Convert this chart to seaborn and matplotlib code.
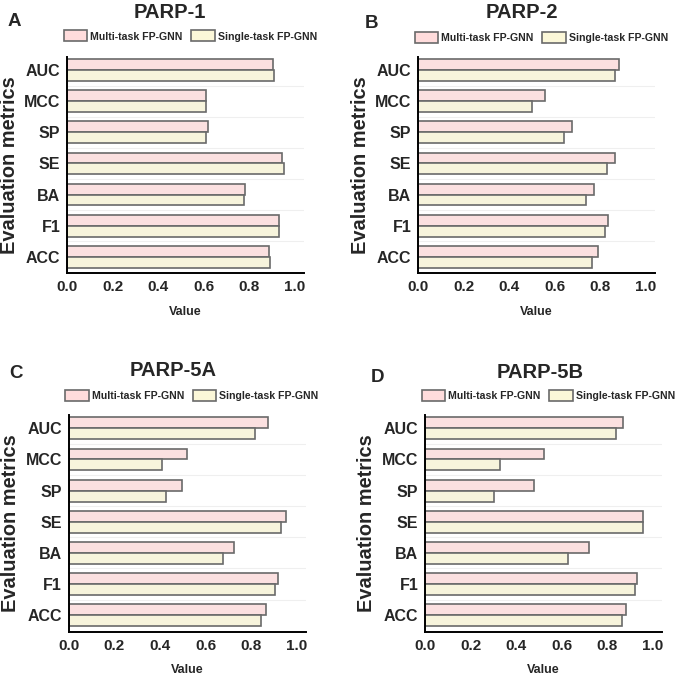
import matplotlib
matplotlib.use("Agg")
import matplotlib.pyplot as plt
from matplotlib.patches import Patch
from matplotlib.ticker import MultipleLocator, FixedLocator
import seaborn as sns
import pandas as pd

sns.set_style("white")
plt.rcParams['font.family'] = ['Liberation Sans', 'DejaVu Sans']

metrics = ["AUC", "MCC", "SP", "SE", "BA", "F1", "ACC"]
models = ["Multi-task FP-GNN", "Single-task FP-GNN"]

parp1_multi = [0.906, 0.611, 0.620, 0.945, 0.781, 0.931, 0.888]
parp1_single = [0.909, 0.612, 0.611, 0.951, 0.778, 0.932, 0.891]
parp2_multi = [0.883, 0.555, 0.674, 0.866, 0.771, 0.836, 0.790]
parp2_single = [0.864, 0.498, 0.639, 0.830, 0.736, 0.819, 0.763]
parp5a_multi = [0.874, 0.521, 0.495, 0.953, 0.724, 0.919, 0.866]
parp5a_single = [0.818, 0.407, 0.426, 0.931, 0.678, 0.906, 0.843]
parp5b_multi = [0.871, 0.521, 0.479, 0.956, 0.718, 0.930, 0.881]
parp5b_single = [0.838, 0.329, 0.304, 0.956, 0.628, 0.922, 0.866]

titles = ["PARP-1", "PARP-2", "PARP-5A", "PARP-5B"]
letters = ["A", "B", "C", "D"]

pink = "#FFDCDC"
yellow = "#FBF7D8"
edge = "#6a6a6a"

W = H = 677
fig = plt.figure(figsize=(W / 100, H / 100), dpi=100)

# axes boxes in px: left, top, width, height
boxes = [(67.3, 57, 236.5, 216.3), (418.3, 57, 236.5, 216.3),
         (69, 415.3, 236.5, 216.3), (425.3, 415.3, 236.5, 216.3)]
title_pos = [(170, 12), (522, 13), (173, 370), (540, 372)]
letter_pos = [(14, 22), (372, 23), (16, 373), (377, 378)]
legend_y = [36, 37.5, 395.5, 395.5]
ylab_x = [10, 361, 11, 366]
xlab_y = [312, 312, 670, 670]

data_sets = [(parp1_multi, parp1_single), (parp2_multi, parp2_single),
             (parp5a_multi, parp5a_single), (parp5b_multi, parp5b_single)]

for i, ((m, s), (l, t, w, h)) in enumerate(zip(data_sets, boxes)):
    ax = fig.add_axes([l / W, 1 - (t + h) / H, w / W, h / H])
    df = pd.DataFrame({
        "Metric": metrics * 2,
        "Value": list(m) + list(s),
        "Model": [models[0]] * len(metrics) + [models[1]] * len(metrics),
    })
    for k in range(len(metrics) - 1):
        ax.axhline(k + 0.5, color="#efefef", lw=0.8, zorder=0)
    sns.barplot(data=df, x="Value", y="Metric", hue="Model", order=metrics,
                hue_order=models, orient="h", palette=[pink, yellow],
                width=0.7, edgecolor=edge, linewidth=1.2, legend=False,
                ax=ax, zorder=2)
    ax.set_xlim(0, 1.04)
    ax.set_ylim(6.53, -0.42)
    ax.xaxis.set_minor_locator(MultipleLocator(0.05))
    ax.yaxis.set_minor_locator(FixedLocator([k + 0.5 for k in range(-1, len(metrics))]))
    ax.set_xticks([0.0, 0.2, 0.4, 0.6, 0.8, 1.0])
    ax.set_xticklabels(["0.0", "0.2", "0.4", "0.6", "0.8", "1.0"],
                       fontsize=11, fontweight="bold")
    ax.set_yticks(range(len(metrics)))
    ax.set_yticklabels(metrics, fontsize=11.5, fontweight="bold")
    ax.tick_params(axis="both", which="major", direction="out", length=3.5,
                   width=1.2, color="black", pad=1.5)
    ax.tick_params(axis="both", which="minor", direction="out", length=2,
                   width=1.0, color="black")
    for sp in ["top", "right"]:
        ax.spines[sp].set_visible(False)
    for sp in ["left", "bottom"]:
        ax.spines[sp].set_linewidth(1.4)
        ax.spines[sp].set_color("black")
    ax.set_xlabel("Value", fontsize=9, fontweight="bold")
    ax.xaxis.set_label_coords(0.5, -(xlab_y[i] - (t + h)) / h)
    ax.xaxis.label.set_va("center")
    ax.set_ylabel("Evaluation metrics", fontsize=14.4, fontweight="bold")
    ax.yaxis.set_label_coords(-(l - ylab_x[i]) / w, 0.5)
    ax.yaxis.label.set_va("center")

    handles = [Patch(facecolor=pink, edgecolor=edge, linewidth=1.2),
               Patch(facecolor=yellow, edgecolor=edge, linewidth=1.2)]
    ax.legend(handles, models, loc="center",
              bbox_to_anchor=(0.52, 1 + (t - legend_y[i]) / h),
              ncol=2, frameon=False, prop={"weight": "bold", "size": 7.6},
              handlelength=2.2, handleheight=1.23, columnspacing=0.85,
              handletextpad=0.3, borderaxespad=0.0, borderpad=0.0)

    fig.text(title_pos[i][0] / W, 1 - title_pos[i][1] / H, titles[i],
             fontsize=14.5, fontweight="bold", ha="center", va="center")
    fig.text(letter_pos[i][0] / W, 1 - letter_pos[i][1] / H, letters[i],
             fontsize=13.5, fontweight="bold", ha="center", va="center")

fig.savefig("out.png", dpi=100)
